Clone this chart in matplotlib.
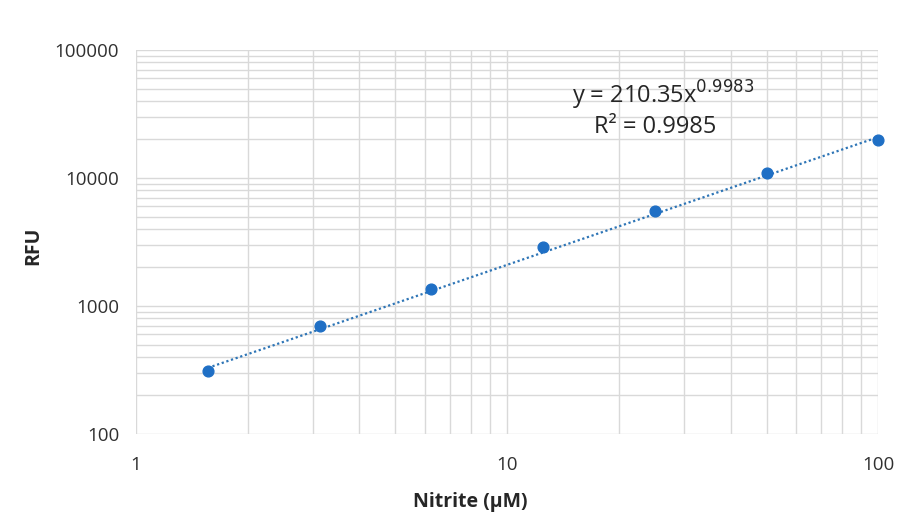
import numpy as np
import matplotlib; matplotlib.use("Agg"); import matplotlib.pyplot as plt
from matplotlib.ticker import LogLocator, FixedFormatter, FixedLocator

plt.rcParams['font.family'] = ['Open Sans', 'DejaVu Sans']

nitrite = [1.5625, 3.125, 6.25, 12.5, 25, 50, 100]
rfu = [310, 698, 1358, 2890, 5520, 10940, 19800]
fit_a, fit_b = 210.35, 0.9983

fig = plt.figure(figsize=(9.12, 5.29), dpi=100)
ax = fig.add_axes([0.149, 0.1796, 0.814, 0.7259])
ax.set_xscale("log"); ax.set_yscale("log")
ax.set_xlim(1, 100); ax.set_ylim(100, 100000)

xs = np.logspace(np.log10(nitrite[0]), np.log10(nitrite[-1]), 100)
ax.plot(xs, fit_a * xs ** fit_b, ls=(0, (1, 1.2)), color="#2E75B6", lw=1.6, zorder=2)
ax.scatter(nitrite, rfu, s=60, color="#1F6FC5", zorder=3, clip_on=False)

ax.xaxis.set_major_locator(FixedLocator([1, 10, 100]))
ax.xaxis.set_major_formatter(FixedFormatter(["1", "10", "100"]))
ax.yaxis.set_major_locator(FixedLocator([100, 1000, 10000, 100000]))
ax.yaxis.set_major_formatter(FixedFormatter(["100", "1000", "10000", "100000"]))
ax.xaxis.set_minor_locator(LogLocator(base=10, subs=np.arange(2, 10)))
ax.yaxis.set_minor_locator(LogLocator(base=10, subs=np.arange(2, 10)))
ax.xaxis.set_minor_formatter(plt.NullFormatter()); ax.yaxis.set_minor_formatter(plt.NullFormatter())
ax.grid(True, which="both", color="#d9d9d9", lw=1.0)
ax.set_axisbelow(True)
ax.tick_params(which="both", length=0, labelsize=13.5, colors="#303030")
ax.tick_params(axis="x", pad=16)
ax.tick_params(axis="y", pad=12)
for s in ax.spines.values():
    s.set_visible(False)

ax.set_xlabel("Nitrite (µM)", fontsize=14, fontweight="bold", color="#262626")
ax.xaxis.set_label_coords(0.45, -0.15)
ax.set_ylabel("RFU", fontsize=14, fontweight="bold", color="#262626")
ax.yaxis.set_label_coords(-0.125, 0.49)

ax.text(0.71, 0.883, "y = 210.35x$^{0.9983}$", transform=ax.transAxes, ha="center",
        va="center", fontsize=17, color="#262626")
ax.text(0.70, 0.80, "R² = 0.9985", transform=ax.transAxes, ha="center",
        va="center", fontsize=17, color="#262626")

fig.savefig("out.png", dpi=100)
